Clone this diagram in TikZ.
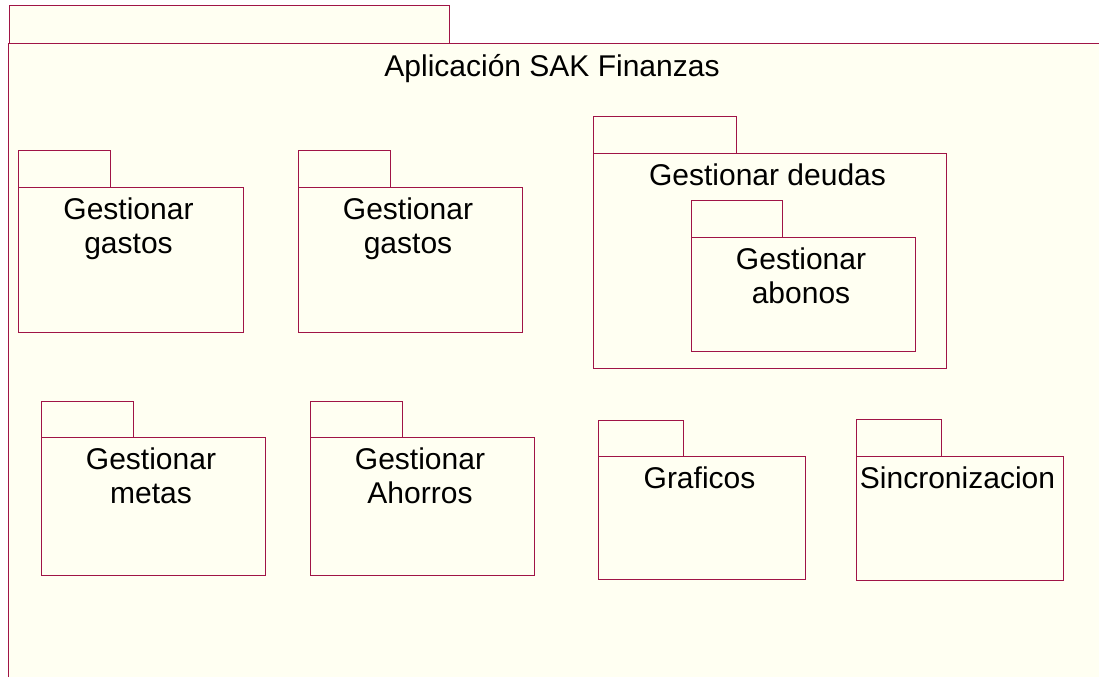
\documentclass[tikz,border=0pt]{standalone}
\usepackage{fontspec}
\setmainfont{Liberation Sans}
\definecolor{pkgred}{RGB}{160,20,70}
\definecolor{cream}{RGB}{255,255,242}
\tikzset{
  pkgline/.style={draw=pkgred, line width=1pt, fill=cream},
  pkgtext/.style={anchor=base, align=center, inner sep=0pt, font=\fontsize{30}{34.5}\selectfont},
}
% #9 = offset of the last line's baseline below the first one
\newcommand\pkgbox[9]{%
  \draw[pkgline] (#2,#3) rectangle (#4,#5);
  \draw[pkgline] (#2,#5) rectangle (#6,#7);
  \node[pkgtext] (#1) at ({(#2+#6)/2-2},{#5+32+#9}) {#8};
}
\begin{document}
\begin{tikzpicture}[x=1pt,y=-1pt]
\useasboundingbox[fill=white] (0,0) rectangle (1099,677);
% outer package
\fill[cream] (9,6) rectangle (449,44);
\fill[cream] (8,44) rectangle (1099,677);
\draw[draw=pkgred, line width=1pt] (9,44) -- (9,6) -- (449,6) -- (449,44);
\draw[draw=pkgred, line width=1pt] (8,677) -- (8,44) -- (1099,44);
\node[pkgtext] (title) at (552,77) {Aplicación SAK Finanzas};
\pkgbox{gastosA}{18}{150}{110}{187}{243}{332}{Gestionar\\gastos}{34.5}
\pkgbox{gastosB}{298}{150}{390}{187}{522}{332}{Gestionar\\gastos}{34.5}
\pkgbox{deudas}{593}{116}{736}{153}{946}{368}{Gestionar deudas}{0}
\pkgbox{abonos}{691}{200}{782}{237}{915}{351}{Gestionar\\abonos}{34.5}
\pkgbox{metas}{41}{401}{133}{437}{265}{575}{Gestionar\\metas}{34.5}
\pkgbox{ahorros}{310}{401}{402}{437}{534}{575}{Gestionar\\Ahorros}{34.5}
\pkgbox{graficos}{598}{420}{683}{456}{805}{579}{Graficos}{0}
\pkgbox{sincro}{856}{419}{941}{456}{1063}{580}{Sincronizacion}{0}
\end{tikzpicture}
\end{document}
